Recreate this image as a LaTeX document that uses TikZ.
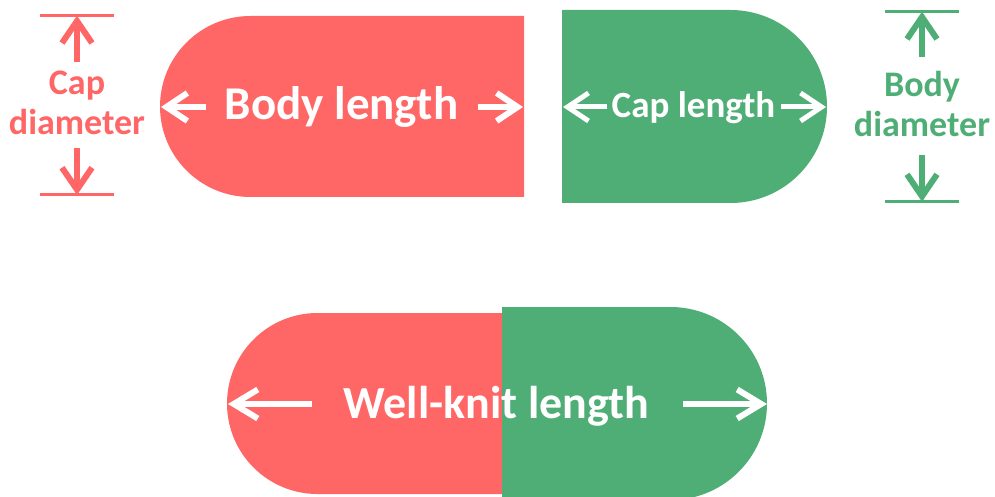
\documentclass[tikz,border=0pt]{standalone}
\usepackage{fontspec}
\setmainfont{Carlito}
\usetikzlibrary{arrows.meta}
\definecolor{capred}{HTML}{FF6666}
\definecolor{capgreen}{HTML}{4FAE76}
\tikzset{
  lbl/.style={inner sep=0pt, anchor=base, font=\bfseries},
  wharrow/.style={draw=white, line width=6pt, -{Straight Barb[length=21pt,width=28pt]}},
  dimarrow/.style={line width=6pt, -{Straight Barb[length=22pt,width=30pt]}},
  dimbar/.style={line width=3pt},
}
\begin{document}
\begin{tikzpicture}[x=1pt,y=1pt]
\useasboundingbox (0,0) rectangle (995,496);
\clip (0,0) rectangle (995,496);
% top shapes
\fill[capred] (524,480) -- (250.5,480) arc[start angle=90,end angle=270,radius=90.5pt] -- (524,299) -- cycle;
\fill[capgreen] (562,486) -- (730.5,486) arc[start angle=90,end angle=-90,radius=96.5pt] -- (562,293) -- cycle;
% bottom shapes
\fill[capred] (510,183) -- (317.5,183) arc[start angle=90,end angle=270,radius=90.5pt] -- (510,2) -- cycle;
\fill[capgreen] (502,189) -- (670.5,189) arc[start angle=90,end angle=-90,radius=96.5pt] -- (502,-4) -- cycle;
% texts
\node[lbl, text=white, font=\bfseries\fontsize{47}{50}\selectfont] (bodylen) at (341.5,376) {Body length};
\node[lbl, text=white, font=\bfseries\fontsize{37}{40}\selectfont] (caplen) at (693.5,378) {Cap length};
\node[lbl, text=white, font=\bfseries\fontsize{46}{50}\selectfont] (wklen) at (496.5,78) {Well-knit length};
\node[lbl, text=capred, font=\bfseries\fontsize{36}{40}\selectfont] (capdA) at (77,401) {Cap};
\node[lbl, text=capred, font=\bfseries\fontsize{36}{40}\selectfont] (capdB) at (77,361) {diameter};
\node[lbl, text=capgreen, font=\bfseries\fontsize{36}{40}\selectfont] (bodydA) at (922,399.3) {Body};
\node[lbl, text=capgreen, font=\bfseries\fontsize{36}{40}\selectfont] (bodydB) at (922,359.3) {diameter};
% coordinates
\coordinate (bl1) at (206,389); \coordinate (bl1t) at (161,389);
\coordinate (bl2) at (478,389); \coordinate (bl2t) at (523,389);
\coordinate (cl1) at (607,389); \coordinate (cl1t) at (563,389);
\coordinate (cl2) at (781,389); \coordinate (cl2t) at (826,389);
\coordinate (wk1) at (312,92); \coordinate (wk1t) at (228,92);
\coordinate (wk2) at (683,92); \coordinate (wk2t) at (767,92);
\coordinate (cdu) at (77,434); \coordinate (cdut) at (77,480.3);
\coordinate (cdd) at (77,348); \coordinate (cddt) at (77,301);
\coordinate (cdbarTL) at (40,480.3); \coordinate (cdbarTR) at (114,480.3);
\coordinate (cdbarBL) at (40,301); \coordinate (cdbarBR) at (114,301);
\coordinate (bdu) at (922,439); \coordinate (bdut) at (922,484.3);
\coordinate (bdd) at (922,341); \coordinate (bddt) at (922,294.3);
\coordinate (bdbarTL) at (885,484.3); \coordinate (bdbarTR) at (959,484.3);
\coordinate (bdbarBL) at (885,294.3); \coordinate (bdbarBR) at (959,294.3);
% white arrows
\draw[wharrow] (bl1) -- (bl1t);
\draw[wharrow] (bl2) -- (bl2t);
\draw[wharrow, line width=5pt] (cl1) -- (cl1t);
\draw[wharrow, line width=5pt] (cl2) -- (cl2t);
\draw[wharrow, -{Straight Barb[length=24pt,width=29pt]}] (wk1) -- (wk1t);
\draw[wharrow, -{Straight Barb[length=24pt,width=29pt]}] (wk2) -- (wk2t);
% dimension markers
\draw[dimbar, capred] (cdbarTL) -- (cdbarTR);
\draw[dimbar, capred] (cdbarBL) -- (cdbarBR);
\draw[dimarrow, capred] (cdu) -- (cdut);
\draw[dimarrow, capred] (cdd) -- (cddt);
\draw[dimbar, capgreen] (bdbarTL) -- (bdbarTR);
\draw[dimbar, capgreen] (bdbarBL) -- (bdbarBR);
\draw[dimarrow, capgreen] (bdu) -- (bdut);
\draw[dimarrow, capgreen] (bdd) -- (bddt);
\end{tikzpicture}
\end{document}
